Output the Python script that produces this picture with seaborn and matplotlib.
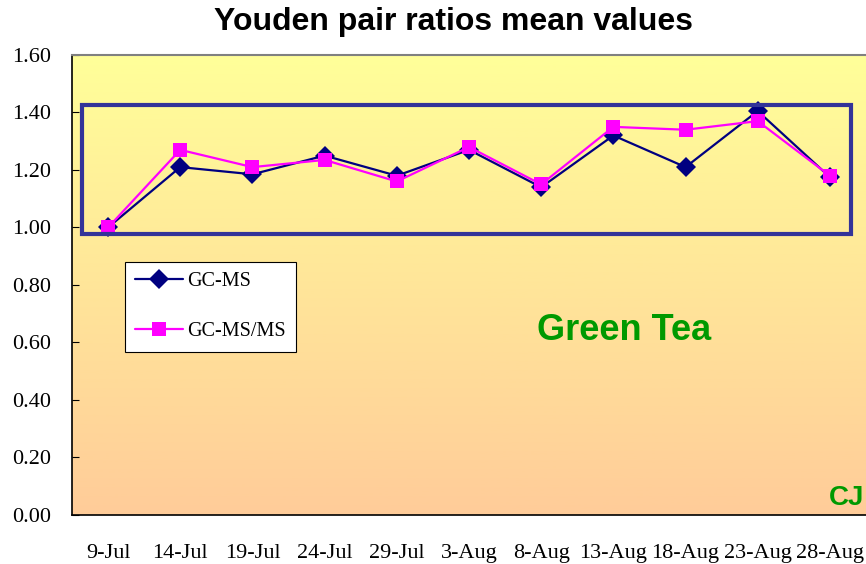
import matplotlib
matplotlib.use('Agg')
import matplotlib.pyplot as plt
import numpy as np
import pandas as pd
import seaborn as sns
from matplotlib.patches import Rectangle

dates = ['9-Jul', '14-Jul', '19-Jul', '24-Jul', '29-Jul', '3-Aug', '8-Aug',
         '13-Aug', '18-Aug', '23-Aug', '28-Aug']
gc_ms = [1.00, 1.21, 1.185, 1.25, 1.18, 1.27, 1.14, 1.32, 1.21, 1.405, 1.175]
gc_msms = [1.00, 1.27, 1.21, 1.235, 1.16, 1.28, 1.15, 1.35, 1.34, 1.37, 1.18]
y_ticks = [0.0, 0.2, 0.4, 0.6, 0.8, 1.0, 1.2, 1.4, 1.6]

df = pd.DataFrame({'date': dates * 2,
                   'value': gc_ms + gc_msms,
                   'method': ['GC-MS'] * len(dates) + ['GC-MS/MS'] * len(dates)})
df['pos'] = df.groupby('method').cumcount()

sns.set_style('white')
plt.rcParams['font.family'] = ['Liberation Serif', 'DejaVu Serif']
plt.rcParams['text.color'] = 'black'

fig = plt.figure(figsize=(8.66, 5.64), dpi=100)
ax = fig.add_axes([0.0831, 0.0869, 0.9169, 0.8156])

# background gradient yellow -> peach
grad = np.linspace(0, 1, 256).reshape(-1, 1)
top = np.array([255, 255, 153]) / 255
bot = np.array([255, 204, 153]) / 255
img = top + (bot - top) * grad[..., None]
ax.imshow(img, extent=(-0.5, 10.5, 0, 1.6), aspect='auto', zorder=0, origin='upper')

sns.lineplot(data=df, x='pos', y='value', hue='method', style='method',
             palette={'GC-MS': '#000080', 'GC-MS/MS': '#FF00FF'},
             markers={'GC-MS': 'D', 'GC-MS/MS': 's'},
             dashes=False, markersize=10, markeredgewidth=0, linewidth=1.6,
             ax=ax, zorder=3)

ax.add_patch(Rectangle((-0.36, 0.977), 10.65, 0.449, fill=False,
                       edgecolor='#333399', linewidth=3, zorder=4))

ax.set_xlim(-0.5, 10.5)
ax.set_ylim(0, 1.6)
ax.set_yticks(y_ticks)
ax.set_yticklabels([f'{v:.2f}' for v in y_ticks], fontsize=16)
ax.set_xticks(range(len(dates)))
ax.set_xticklabels(dates, fontsize=16)
ax.set_xticks(np.arange(0.5, len(dates) - 0.5, 1), minor=True)
ax.tick_params(axis='x', which='major', length=0, pad=21, colors='black')
ax.tick_params(axis='x', which='minor', direction='in', length=6, width=0.8)
ax.tick_params(axis='y', direction='in', length=5, width=0.8, left=True, pad=15,
               colors='black')
ax.set_xlabel('')
ax.set_ylabel('')
ax.spines['right'].set_visible(False)
ax.spines['top'].set_color('#808080')
ax.spines['top'].set_linewidth(1.5)
for s in ['left', 'bottom']:
    ax.spines[s].set_color('black')
    ax.spines[s].set_linewidth(1.2)

leg = ax.legend(loc='upper left', bbox_to_anchor=(0.0667, 0.55), fontsize=14.5,
                frameon=True, fancybox=False, edgecolor='black', framealpha=1,
                labelspacing=1.55, handlelength=2.4, handletextpad=0.2,
                borderpad=0.5, borderaxespad=0)
leg.get_frame().set_linewidth(0.8)
leg.set_zorder(5)

ax.text(0.695, 0.402, 'Green Tea', transform=ax.transAxes, ha='center', va='center',
        fontsize=26, fontweight='bold', color='#009900', family='Liberation Sans')
ax.text(0.998, 0.037, 'CJ', transform=ax.transAxes, ha='right', va='center',
        fontsize=20, fontweight='bold', color='#009900', family='Liberation Sans')

fig.text(0.524, 0.961, 'Youden pair ratios mean values', ha='center', va='center',
         fontsize=23, fontweight='bold', family='Liberation Sans', color='black')

fig.savefig('out.png', dpi=100)
